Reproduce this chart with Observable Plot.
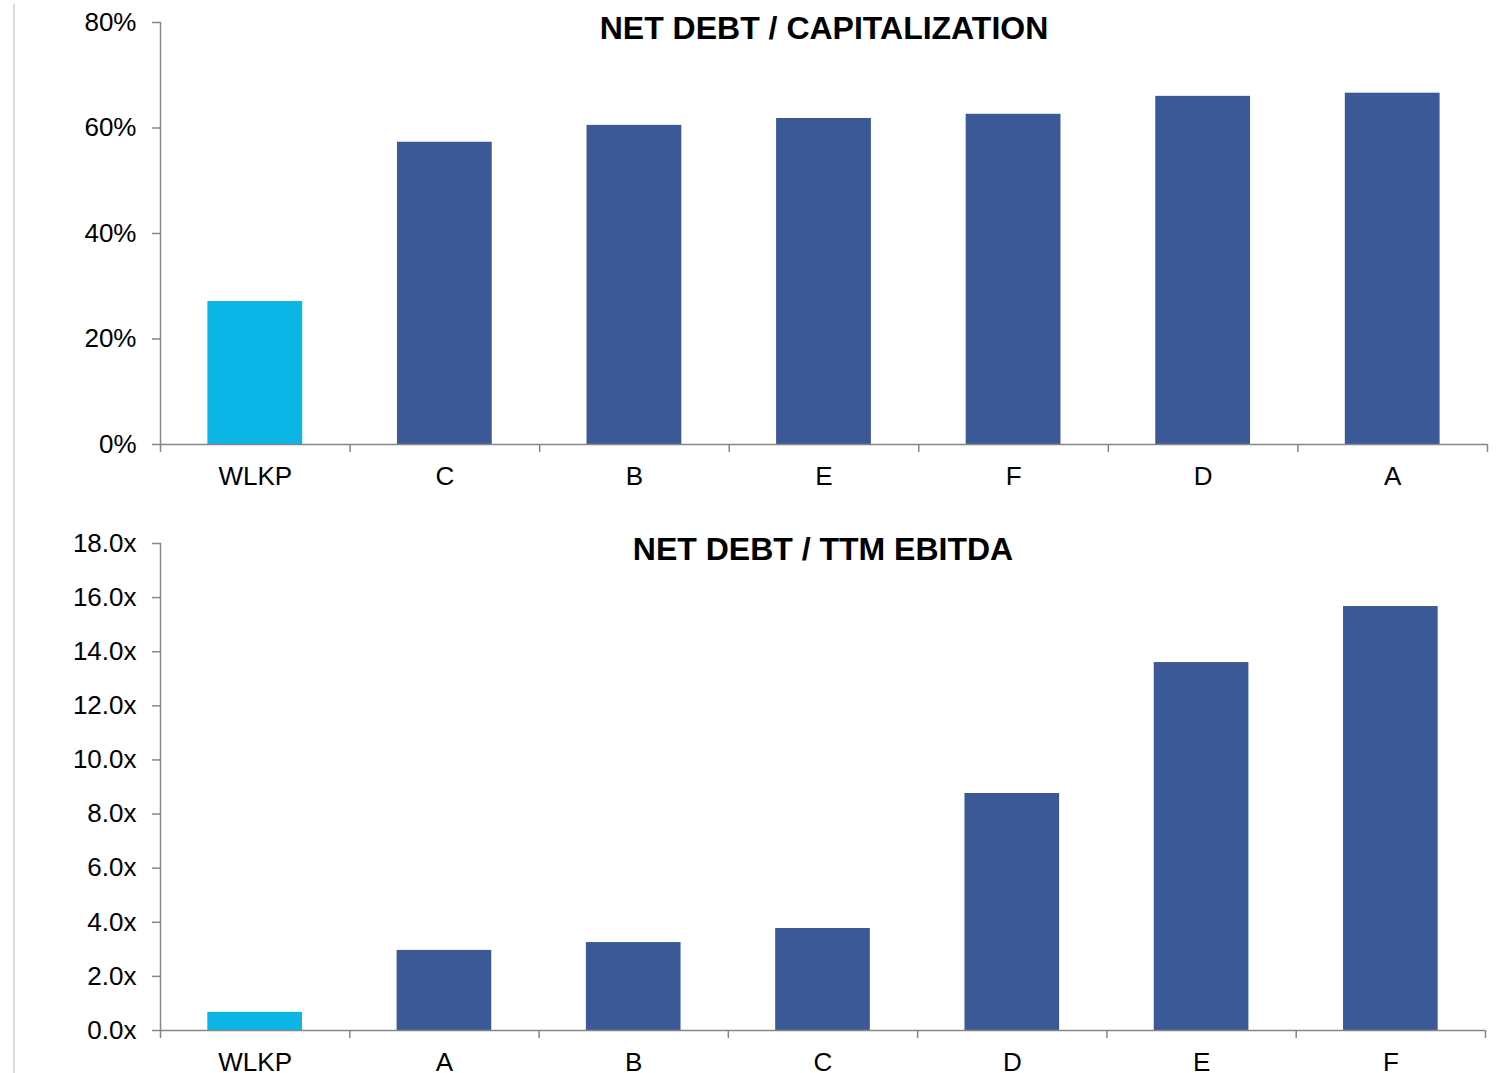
<!DOCTYPE html>
<html><head><meta charset="utf-8">
<script src="https://cdn.jsdelivr.net/npm/d3@7"></script>
<script src="https://cdn.jsdelivr.net/npm/@observablehq/plot@0.6"></script>
<style>
body{margin:0;background:#fff;font-family:"Liberation Sans",Arial,sans-serif;}
#wrap{position:relative;width:1499px;height:1073px;overflow:hidden;background:#fff;}
#edge{position:absolute;left:13px;top:4px;width:2px;height:1069px;background:#dcdcdc;}
#c svg{display:block;}
</style></head><body><div id="wrap"><div id="edge"></div><div id="c"></div></div>
<script>
const capCategories = ["WLKP", "C", "B", "E", "F", "D", "A"];
const capValues = [27.1, 57.3, 60.5, 61.8, 62.6, 66.0, 66.6];
const capTicks = [0, 20, 40, 60, 80];
const capTitle = "NET DEBT / CAPITALIZATION";

const ebitdaCategories = ["WLKP", "A", "B", "C", "D", "E", "F"];
const ebitdaValues = [0.67, 2.96, 3.25, 3.77, 8.76, 13.6, 15.67];
const ebitdaTicks = [0, 2, 4, 6, 8, 10, 12, 14, 16, 18];
const ebitdaTitle = "NET DEBT / TTM EBITDA";

const highlight = "WLKP";
const cyan = "#0bb5e6";
const blue = "#3b5996";
const grey = "#868686";
const font = '"Liberation Sans", Arial, sans-serif';

function chart({cats, vals, ticks, fmt, title, height, mt, mb, mr}) {
  const width = 1499, ml = 160;
  const step = (width - ml - mr) / cats.length;
  const data = cats.map((c, i) => ({cat: c, value: vals[i], kind: c === highlight ? "hl" : "peer"}));
  const last = [cats[cats.length - 1]];
  return Plot.plot({
    width, height, marginLeft: ml, marginRight: mr, marginTop: mt, marginBottom: mb,
    style: {fontFamily: font, fontSize: "26px", color: "#000", background: "#fff", overflow: "visible"},
    x: {domain: cats, paddingInner: 0.5, paddingOuter: 0.25, round: false, label: null},
    y: {domain: [ticks[0], ticks[ticks.length - 1]], label: null},
    color: {domain: ["hl", "peer"], range: [cyan, blue]},
    marks: [
      Plot.barY(data, {x: "cat", y: "value", fill: "kind"}),
      Plot.frame({anchor: "left", stroke: grey, strokeWidth: 1.5}),
      Plot.ruleY([0], {stroke: grey, strokeWidth: 1.5}),
      Plot.axisY({ticks, tickFormat: fmt, tickSize: 8, tickPadding: 16, stroke: grey, strokeWidth: 1.5, fill: "#000", fontSize: 26, label: null}),
      Plot.axisX({tickSize: 0, tickPadding: 22, fill: "#000", fontSize: 26, label: null}),
      Plot.axisX({tickSize: 8, tickFormat: () => "", dx: -step / 2, stroke: grey, strokeWidth: 1.5, label: null}),
      Plot.axisX(last, {tickSize: 8, tickFormat: () => "", dx: step / 2, stroke: grey, strokeWidth: 1.5, label: null}),
      Plot.text([title], {text: d => d, frameAnchor: "top", dy: 6, lineAnchor: "middle", fontWeight: "bold", fontSize: 32, fill: "#000"})
    ]
  });
}

const c = document.getElementById("c");
c.appendChild(chart({cats: capCategories, vals: capValues, ticks: capTicks, fmt: d => d + "%", title: capTitle, height: 510, mt: 22, mb: 66, mr: 12}));
c.appendChild(chart({cats: ebitdaCategories, vals: ebitdaValues, ticks: ebitdaTicks, fmt: d => d.toFixed(1) + "x", title: ebitdaTitle, height: 563, mt: 33, mb: 43, mr: 14}));
</script></body></html>
